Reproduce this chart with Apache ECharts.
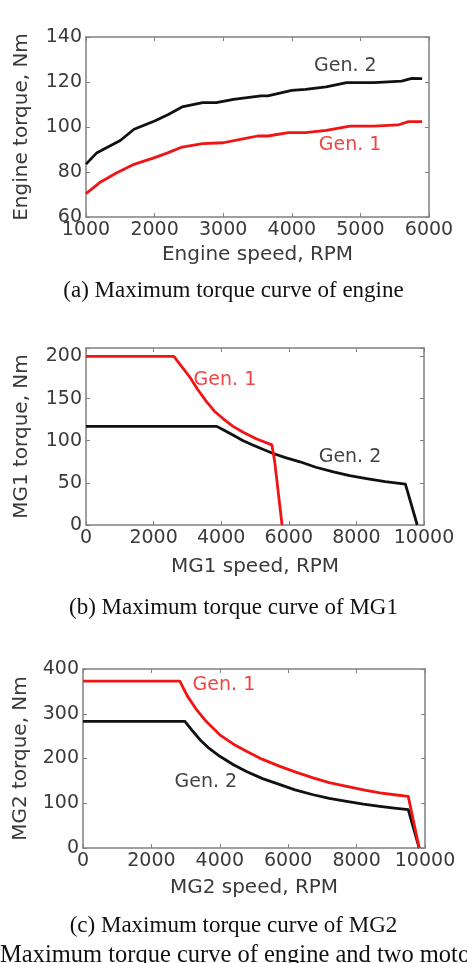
<!DOCTYPE html>
<html>
<head>
<meta charset="utf-8">
<script src="https://cdn.jsdelivr.net/npm/echarts@6/dist/echarts.min.js"></script>
<style>
html, body { margin: 0; padding: 0; background: #fff; }
#main { width: 467px; height: 963px; }
</style>
</head>
<body>
<div id="main"></div>
<script>
// (a) engine
var engineSpeed1 = [1000, 1200, 1450, 1700, 2000, 2200, 2400, 2700, 3000, 3250, 3500, 3650, 3950, 4200, 4500, 4850, 5200, 5550, 5700, 5900];
var engineGen1 = [70.4, 75.3, 79.7, 83.4, 86.4, 88.6, 91.1, 92.6, 93, 94.5, 96, 96, 97.5, 97.5, 98.5, 100.4, 100.4, 100.9, 102.4, 102.4];
var engineSpeed2 = [1000, 1160, 1500, 1700, 2000, 2200, 2400, 2700, 2900, 3150, 3550, 3650, 4000, 4200, 4500, 4800, 5200, 5600, 5750, 5900];
var engineGen2 = [83.5, 88.6, 94, 99, 102.7, 105.6, 108.9, 110.8, 110.8, 112.3, 113.8, 113.8, 116.3, 116.7, 117.8, 119.7, 119.7, 120.4, 121.6, 121.5];

// (b) MG1
var mg1Speed1 = [0, 2600, 2850, 3080, 3300, 3570, 3800, 4060, 4350, 4650, 5050, 5500, 5580, 5800];
var mg1Gen1 = [200, 200, 187, 175, 161, 146, 135, 126, 117, 110, 102, 95, 76, 0];
var mg1Speed2 = [0, 3870, 4100, 4360, 4650, 4950, 5250, 5540, 5900, 6330, 6800, 7320, 7800, 8300, 8850, 9450, 9800];
var mg1Gen2 = [117, 117, 112, 106.5, 100, 94.7, 89.5, 84.8, 80, 75, 68.5, 63, 58.5, 55, 51.5, 48.5, 0];

// (c) MG2
var mg2Speed1 = [0, 2830, 3050, 3320, 3600, 4000, 4400, 4780, 5250, 5760, 6200, 6730, 7200, 7710, 8200, 8680, 9100, 9510, 9830];
var mg2Gen1 = [373, 373, 340, 309, 283, 253, 232, 216, 198, 182.5, 170, 156.6, 146, 137.8, 130, 123, 119, 115.4, 0];
var mg2Speed2 = [0, 2980, 3200, 3420, 3700, 4000, 4400, 4780, 5250, 5760, 6200, 6730, 7200, 7710, 8200, 8680, 9100, 9510, 9830];
var mg2Gen2 = [283, 283, 262, 242, 222, 205, 186, 171, 155, 141.6, 130, 119, 111, 104, 98, 93, 89, 85.7, 0];

// curve labels: [text, x, y] in data units
var labelsA = [['Gen. 2', 4780, 127], ['Gen. 1', 4850, 92]];
var labelsB = [['Gen. 1', 4110, 171.5], ['Gen. 2', 7810, 81]];
var labelsC = [['Gen. 1', 4120, 365], ['Gen. 2', 3590, 147]];

var captions = ['(a) Maximum torque curve of engine', '(b) Maximum torque curve of MG1', '(c) Maximum torque curve of MG2'];
var figCaption = 'Maximum torque curve of engine and two motors';

var RED = '#f01414';
var BLACK = '#111111';
var FRAME = '#808080';
var TEXT = '#3a3a3a';
var SANS = '"DejaVu Sans", sans-serif';
var SERIF = '"Liberation Serif", "Times New Roman", serif';

var panels = [
    {
        grid: {left: 86, top: 37, width: 343, height: 180},
        x: {min: 1000, max: 6000, interval: 1000, name: 'Engine speed, RPM', gap: 28},
        y: {min: 60, max: 140, interval: 20, name: 'Engine torque, Nm', gap: 54},
        lines: [[engineSpeed2, engineGen2, BLACK], [engineSpeed1, engineGen1, RED]],
        labels: labelsA
    },
    {
        grid: {left: 86, top: 348, width: 338, height: 177},
        x: {min: 0, max: 10000, interval: 2000, name: 'MG1 speed, RPM', gap: 32},
        y: {min: 0, max: 210, interval: 50, name: 'MG1 torque, Nm', gap: 54},
        lines: [[mg1Speed2, mg1Gen2, BLACK], [mg1Speed1, mg1Gen1, RED]],
        labels: labelsB
    },
    {
        grid: {left: 83, top: 669, width: 342, height: 179},
        x: {min: 0, max: 10000, interval: 2000, name: 'MG2 speed, RPM', gap: 30},
        y: {min: 0, max: 400, interval: 100, name: 'MG2 torque, Nm', gap: 52},
        lines: [[mg2Speed2, mg2Gen2, BLACK], [mg2Speed1, mg2Gen1, RED]],
        labels: labelsC
    }
];

var grids = [], xAxes = [], yAxes = [], series = [];

// 框线轴：主轴带刻度标签和名称，顶部/右侧只画线和向内刻度
function frameAxis(ax, gridIndex, position, main) {
    var o = {
        type: 'value',
        gridIndex: gridIndex,
        position: position,
        min: ax.min,
        max: ax.max,
        interval: ax.interval,
        axisLine: {show: true, onZero: false, lineStyle: {color: FRAME, width: 1.5}},
        axisTick: {show: true, inside: true, length: 4, lineStyle: {color: FRAME, width: 1}},
        splitLine: {show: false},
        axisLabel: {show: false},
        nameMoveOverlap: false
    };
    if (main) {
        o.name = ax.name;
        o.nameLocation = 'middle';
        o.nameGap = ax.gap;
        o.nameTextStyle = {fontFamily: SANS, fontSize: 20, color: TEXT};
        o.axisLabel = {
            show: true,
            margin: 4,
            fontFamily: SANS,
            fontSize: 19,
            color: TEXT,
            formatter: function (v) {
                return (v - ax.min) % ax.interval === 0 ? String(v) : '';
            }
        };
    }
    return o;
}

panels.forEach(function (p, i) {
    var g = p.grid;
    grids.push({left: g.left, top: g.top, width: g.width, height: g.height, outerBoundsMode: 'none', containLabel: false});
    xAxes.push(frameAxis(p.x, i, 'bottom', true));
    xAxes.push(frameAxis(p.x, i, 'top', false));
    yAxes.push(frameAxis(p.y, i, 'left', true));
    yAxes.push(frameAxis(p.y, i, 'right', false));

    p.lines.forEach(function (l) {
        var data = l[0].map(function (x, k) { return [x, l[1][k]]; });
        series.push({
            type: 'line',
            xAxisIndex: i * 2,
            yAxisIndex: i * 2,
            data: data,
            showSymbol: false,
            symbol: 'none',
            silent: true,
            lineStyle: {color: l[2], width: 2.8, join: 'round'},
            z: 3
        });
    });

    // 曲线旁的 Gen. 1 / Gen. 2 标注
    series.push({
        type: 'scatter',
        xAxisIndex: i * 2,
        yAxisIndex: i * 2,
        symbolSize: 1,
        silent: true,
        itemStyle: {color: 'rgba(0,0,0,0)'},
        data: p.labels.map(function (t) {
            return {
                value: [t[1], t[2]],
                label: {
                    show: true,
                    position: 'inside',
                    formatter: t[0],
                    fontFamily: SANS,
                    fontSize: 19,
                    color: t[0] === 'Gen. 1' ? RED : BLACK
                }
            };
        }),
        z: 5
    });
});

var capY = [291, 608, 926];
var graphics = captions.map(function (c, i) {
    return {
        type: 'text',
        left: 'center',
        top: capY[i] - 12,
        style: {text: c, fontFamily: SERIF, fontSize: 23, fill: '#111'}
    };
});
graphics.push({
    type: 'text',
    left: 0,
    top: 943,
    style: {text: figCaption, fontFamily: SERIF, fontSize: 24.5, fill: '#111'}
});

var chart = echarts.init(document.getElementById('main'), null, {renderer: 'canvas'});
chart.setOption({
    animation: false,
    backgroundColor: '#fff',
    grid: grids,
    xAxis: xAxes,
    yAxis: yAxes,
    series: series,
    graphic: graphics
});
</script>
</body>
</html>
